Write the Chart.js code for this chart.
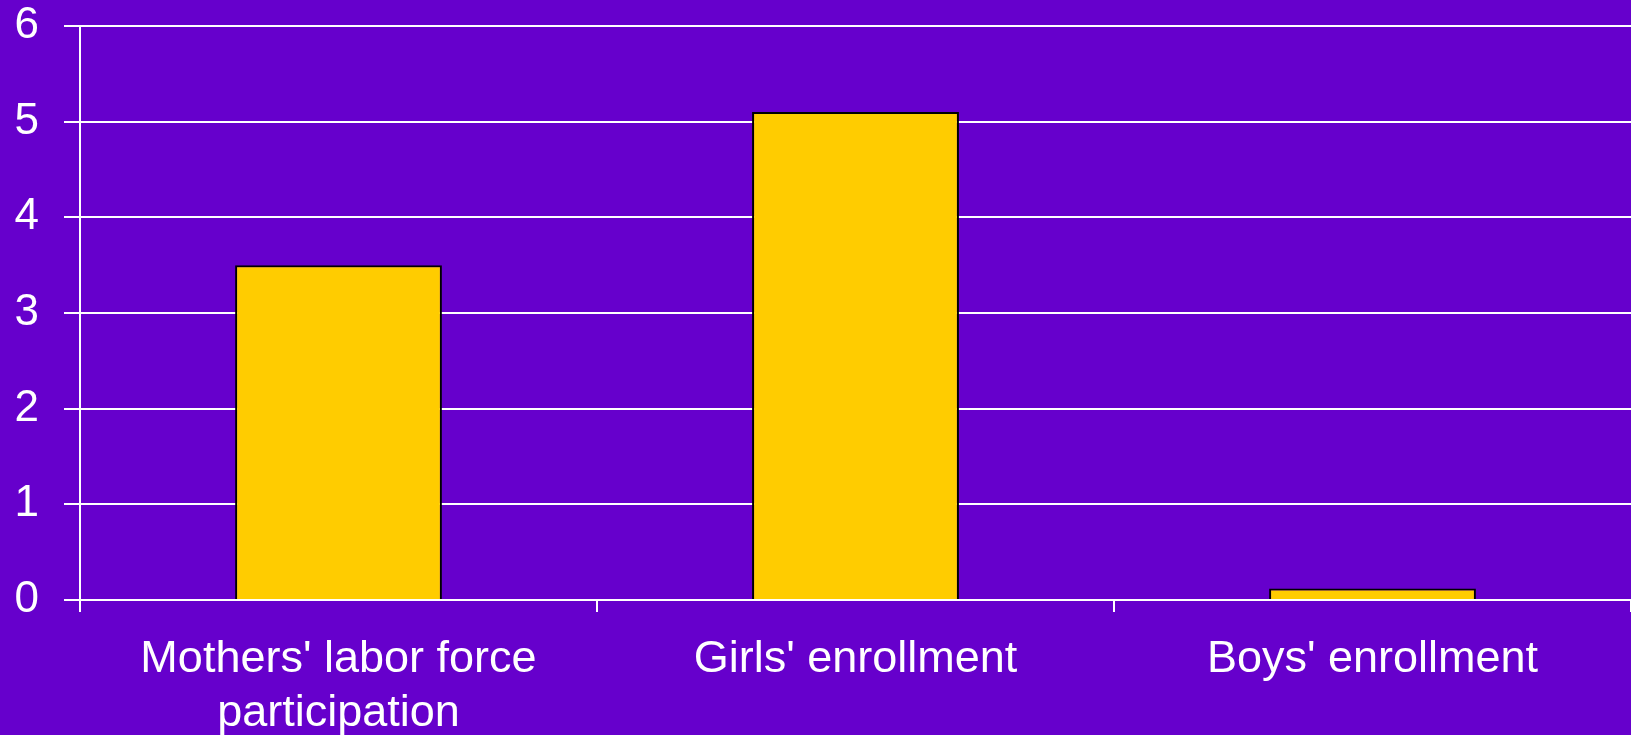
<!DOCTYPE html>
<html>
<head>
<meta charset="utf-8">
<script src="https://cdn.jsdelivr.net/npm/chart.js@4/dist/chart.umd.min.js"></script>
<style>
  html, body { margin: 0; padding: 0; background: #6600CC; overflow: hidden; }
  #wrap { width: 1631px; height: 735px; }
  canvas { display: block; background: #6600CC; }
</style>
</head>
<body>
<div id="wrap"><canvas id="c" width="1631" height="735"></canvas></div>
<script>
const categories = [["Mothers' labor force", "participation"], "Girls' enrollment", "Boys' enrollment"];
const values = [3.5, 5.1, 0.12];
const yTicks = [0, 1, 2, 3, 4, 5, 6];

const fontFamily = "'Liberation Sans', Arial, Helvetica, sans-serif";

new Chart(document.getElementById('c'), {
  type: 'bar',
  data: {
    labels: categories,
    datasets: [{
      data: values,
      backgroundColor: '#FFCC00',
      borderColor: '#000000',
      borderWidth: 2,
      borderSkipped: 'start',
      barPercentage: 0.4,
      categoryPercentage: 1.0
    }]
  },
  options: {
    responsive: false,
    animation: false,
    layout: { padding: 0 },
    plugins: { legend: { display: false }, tooltip: { enabled: false } },
    scales: {
      x: {
        z: 1,
        offset: true,
        afterFit: (scale) => { scale.height = 135; scale.paddingLeft = 0; scale.paddingRight = 0; },
        grid: {
          display: true,
          offset: true,
          drawOnChartArea: false,
          drawTicks: true,
          tickLength: 12,
          color: '#FFFFFF',
          lineWidth: 2
        },
        border: { display: true, color: '#FFFFFF', width: 2 },
        ticks: {
          color: '#FFFFFF',
          padding: 21,
          maxRotation: 0,
          autoSkip: false,
          font: { family: fontFamily, size: 45, lineHeight: 1.19 }
        }
      },
      y: {
        min: yTicks[0],
        max: yTicks[yTicks.length - 1],
        afterBuildTicks: (axis) => { axis.ticks = yTicks.map(v => ({ value: v })); },
        afterFit: (scale) => { scale.width = 80; scale.paddingTop = 26; scale.paddingBottom = 0; },
        grid: {
          color: '#FFFFFF',
          lineWidth: 2,
          tickLength: 16,
          drawTicks: true
        },
        border: { display: true, color: '#FFFFFF', width: 2 },
        ticks: {
          color: '#FFFFFF',
          padding: 25,
          font: { family: fontFamily, size: 44, lineHeight: 1.2 }
        }
      }
    }
  }
});
</script>
</body>
</html>
